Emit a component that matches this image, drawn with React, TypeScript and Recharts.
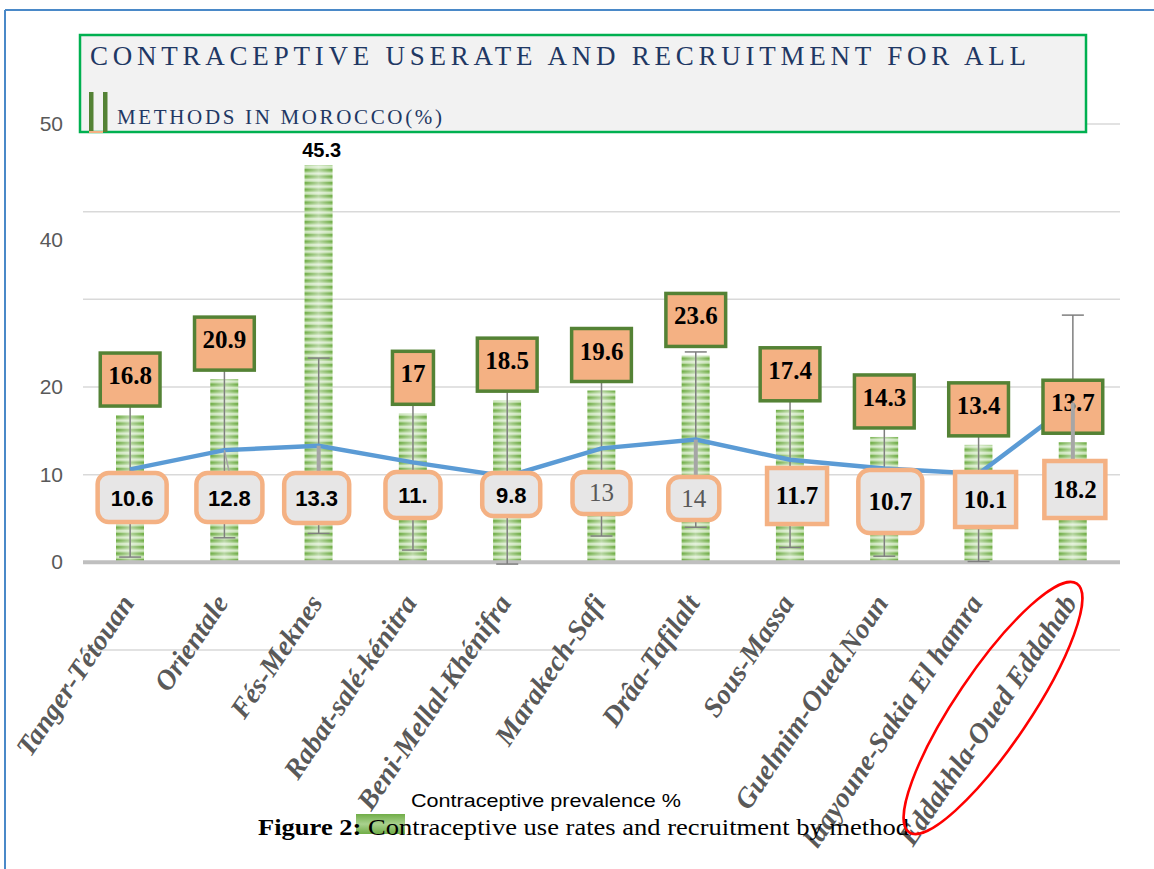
import React from 'react';
import {
  ComposedChart,
  Bar,
  Line,
  XAxis,
  YAxis,
  CartesianGrid,
  ReferenceLine,
  ErrorBar,
  LabelList,
} from 'recharts';

// data
const regions = [
  'Tanger-Tétouan',
  'Orientale',
  'Fés-Meknes',
  'Rabat-salé-kénitra',
  'Beni-Mellal-Khénifra',
  'Marakech-Safi',
  'Drâa-Tafilalt',
  'Sous-Massa',
  'Guelmim-Oued.Noun',
  'laayoune-Sakia El hamra',
  'Eddakhla-Oued Eddahab',
];
const prevalence = [16.8, 20.9, 45.3, 17, 18.5, 19.6, 23.6, 17.4, 14.3, 13.4, 13.7];
const recruitment = [10.6, 12.8, 13.3, 11.4, 9.8, 13, 14, 11.7, 10.7, 10.1, 18.2];
const recruitmentLabels = ['10.6', '12.8', '13.3', '11.', '9.8', '13', '14', '11.7', '10.7', '10.1', '18.2'];
const recruitmentError = [10, 10, 10, 10, 10, 10, 10, 10, 10, 10, 10];
const gridTicks = [-10, 0, 10, 20, 30, 40, 50];
const shownTicks = [0, 10, 20, 40, 50];

const rows = regions.map((region, i) => ({
  region,
  prevalence: prevalence[i],
  recruitment: recruitment[i],
  recruitErr: recruitmentError[i],
}));

// label look for the grey boxes under the line (varies per point in the original)
const LABEL_ROW = 473;
const boxTop = [0, 0, 0, -1, 0, -1, 4, -5, -3, -1, -12];
const boxH = [49, 49, 50, 46, 43, 42, 43, 56, 63, 55, 57];
const boxW = [69, 66, 65, 55, 58, 58, 51, 60, 64, 61, 61];
const boxDx = [2, 5, -2, 0, 4, 0, -2, 7, 6, 7, 2];
const boxRound = [1, 1, 1, 1, 1, 1, 1, 0, 1, 0, 0];
const boxFont = ['sans', 'sans', 'sans', 'sans', 'sans', 'grey', 'grey', 'serif', 'serif', 'serif', 'serif'];

const SERIF = '"Liberation Serif", "Times New Roman", serif';
const SANS = '"Liberation Sans", Arial, sans-serif';

const StripedBar = (props: any) => {
  const { x, y, width, height } = props;
  if (!height || height <= 0) return null;
  return (
    <g>
      <rect x={x} y={y} width={width} height={height} fill="url(#barStripes)" />
      <rect x={x} y={y} width={width} height={height} fill="url(#barShine)" />
    </g>
  );
};

const PrevalenceLabel = (props: any) => {
  const { x, y, value, index } = props;
  if (index === 2) {
    return (
      <text x={x + 3} y={y - 8} textAnchor="middle" fontFamily={SANS} fontWeight="bold" fontSize={20} fill="#000">
        {value}
      </text>
    );
  }
  const txt = String(value);
  const digits = txt.replace('.', '').length;
  const w = (digits * 0.5 + (txt.includes('.') ? 0.25 : 0)) * 25 + 16;
  const h = 53;
  const top = y - 9 - h;
  return (
    <g>
      <rect x={x - w / 2} y={top} width={w} height={h} fill="#f4b183" stroke="#548235" strokeWidth={3.5} />
      <text x={x} y={top + 31} textAnchor="middle" fontFamily={SERIF} fontWeight="bold" fontSize={25} fill="#000">
        {txt}
      </text>
    </g>
  );
};

const RecruitLabel = (props: any) => {
  const { x, y, index } = props;
  const top = LABEL_ROW + boxTop[index];
  const h = boxH[index];
  const w = boxW[index];
  const cx = x + boxDx[index];
  const kind = boxFont[index];
  let leader = null;
  if (index === 1) {
    leader = <line x1={x} y1={y} x2={x + 5} y2={top} stroke="#a6a6a6" strokeWidth={1.5} />;
  } else if (index === 2 || index === 6 || index === 10) {
    leader = <line x1={x} y1={y} x2={x} y2={top} stroke="#a6a6a6" strokeWidth={4} />;
  }
  return (
    <g>
      {leader}
      <rect
        x={cx - w / 2}
        y={top}
        width={w}
        height={h}
        rx={boxRound[index] ? 11 : 0}
        fill="#e7e6e6"
        stroke="#f4b183"
        strokeWidth={4.5}
      />
      <text
        x={cx}
        y={top + h / 2 + 8}
        textAnchor="middle"
        fontFamily={kind === 'sans' ? SANS : SERIF}
        fontWeight={kind === 'grey' ? 'normal' : 'bold'}
        fontSize={kind === 'sans' ? 22 : 25}
        fill={kind === 'grey' ? '#595959' : '#000'}
      >
        {recruitmentLabels[index]}
      </text>
    </g>
  );
};

const RegionTick = (props: any) => {
  const { x, y, payload } = props;
  return (
    <g transform={`translate(${x + 5},${y - 55}) rotate(-56)`}>
      <text
        x={0}
        y={0}
        textAnchor="end"
        fontFamily={SERIF}
        fontStyle="italic"
        fontWeight="bold"
        fontSize={28}
        fill="#595959"
      >
        {payload.value}
      </text>
    </g>
  );
};

const ValueTick = (props: any) => {
  const { x, y, payload } = props;
  if (!shownTicks.includes(payload.value)) return null;
  const shift = payload.value === 40 ? 28 : 0;
  return (
    <text x={x - 12} y={y + shift + 7} textAnchor="end" fontFamily={SANS} fontSize={21} fill="#595959">
      {payload.value}
    </text>
  );
};

const App: React.FC = () => {
  return (
    <div style={{ position: 'absolute', left: 0, top: 0, width: 1154, height: 869, background: '#fff', overflow: 'hidden' }}>
      <div style={{ position: 'absolute', left: 0, top: 0 }}>
        <ComposedChart
          width={1154}
          height={869}
          data={rows}
          margin={{ top: 124, right: 34, left: 23, bottom: 189 }}
        >
          <defs>
            <pattern id="barStripes" patternUnits="userSpaceOnUse" width={10} height={6.5}>
              <rect width={10} height={6.5} fill="#a9d18e" />
              <rect y={0} width={10} height={2.4} fill="#70ad47" />
              <rect y={3.8} width={10} height={1.4} fill="#d8ebcb" />
            </pattern>
            <linearGradient id="barShine" x1="0" y1="0" x2="1" y2="0">
              <stop offset="0" stopColor="#fff" stopOpacity={0} />
              <stop offset="0.5" stopColor="#fff" stopOpacity={0.5} />
              <stop offset="1" stopColor="#fff" stopOpacity={0} />
            </linearGradient>
          </defs>
          <CartesianGrid vertical={false} stroke="#d9d9d9" strokeWidth={1.5} />
          <XAxis
            dataKey="region"
            interval={0}
            tick={<RegionTick />}
            axisLine={false}
            tickLine={false}
            height={30}
          />
          <YAxis
            domain={[-10, 50]}
            ticks={gridTicks}
            width={60}
            axisLine={false}
            tickLine={false}
            tick={<ValueTick />}
          />
          <ReferenceLine y={0} stroke="#bfbfbf" strokeWidth={4} />
          <Bar dataKey="prevalence" barSize={28} shape={StripedBar} isAnimationActive={false} />
          <Line
            dataKey="recruitment"
            type="linear"
            stroke="#5b9bd5"
            strokeWidth={4.5}
            dot={false}
            activeDot={false}
            isAnimationActive={false}
          >
            <ErrorBar dataKey="recruitErr" width={11} stroke="#7f7f7f" strokeWidth={1.5} direction="y" />
          </Line>
          <Line dataKey="prevalence" stroke="none" dot={false} activeDot={false} isAnimationActive={false}>
            <LabelList dataKey="prevalence" content={PrevalenceLabel} />
          </Line>
          <Line dataKey="recruitment" stroke="none" dot={false} activeDot={false} isAnimationActive={false}>
            <LabelList dataKey="recruitment" content={RecruitLabel} />
          </Line>
        </ComposedChart>
      </div>
      <svg width={1154} height={869} style={{ position: 'absolute', left: 0, top: 0, pointerEvents: 'none' }}>
        {/* outer frame */}
        <line x1={5} y1={10} x2={5} y2={869} stroke="#4a89c8" strokeWidth={2} />
        <line x1={5} y1={10} x2={1154} y2={10} stroke="#4a89c8" strokeWidth={2} />
        {/* title box */}
        <rect x={80} y={35} width={1006} height={97} fill="#f2f2f2" stroke="#00b050" strokeWidth={2.5} />
        <rect x={89} y={92} width={4.5} height={40} fill="#548235" />
        <rect x={103} y={92} width={4.5} height={40} fill="#548235" />
        <rect x={89} y={131} width={14} height={2} fill="#f4b183" />
        <text x={90} y={65} fontFamily={SERIF} fontSize={27} fill="#1f3864" textLength={936} lengthAdjust="spacing">
          CONTRACEPTIVE USERATE AND RECRUITMENT FOR ALL
        </text>
        <text x={117} y={124} fontFamily={SERIF} fontSize={21} fill="#1f3864" textLength={325} lengthAdjust="spacing">
          METHODS IN  MOROCCO(%)
        </text>
        {/* legend + caption */}
        <defs>
          <linearGradient id="legendSwatch" x1="0" y1="0" x2="0" y2="1">
            <stop offset="0" stopColor="#70ad47" />
            <stop offset="0.5" stopColor="#a9d18e" />
            <stop offset="1" stopColor="#70ad47" />
          </linearGradient>
        </defs>
        <rect x={356} y={814} width={49} height={20} fill="url(#legendSwatch)" />
        <text x={411} y={807} fontFamily={SANS} fontSize={19} fill="#000" textLength={270} lengthAdjust="spacingAndGlyphs">
          Contraceptive prevalence %
        </text>
        <text x={258} y={835} fontFamily={SERIF} fontSize={24} fill="#000" textLength={651} lengthAdjust="spacingAndGlyphs">
          <tspan fontWeight="bold">Figure 2:</tspan> Contraceptive use rates and recruitment by method
        </text>
        <ellipse cx={993} cy={708} rx={150} ry={37} transform="rotate(-56 993 708)" fill="none" stroke="#ff0000" strokeWidth={2.5} />
      </svg>
    </div>
  );
};

export default App;
